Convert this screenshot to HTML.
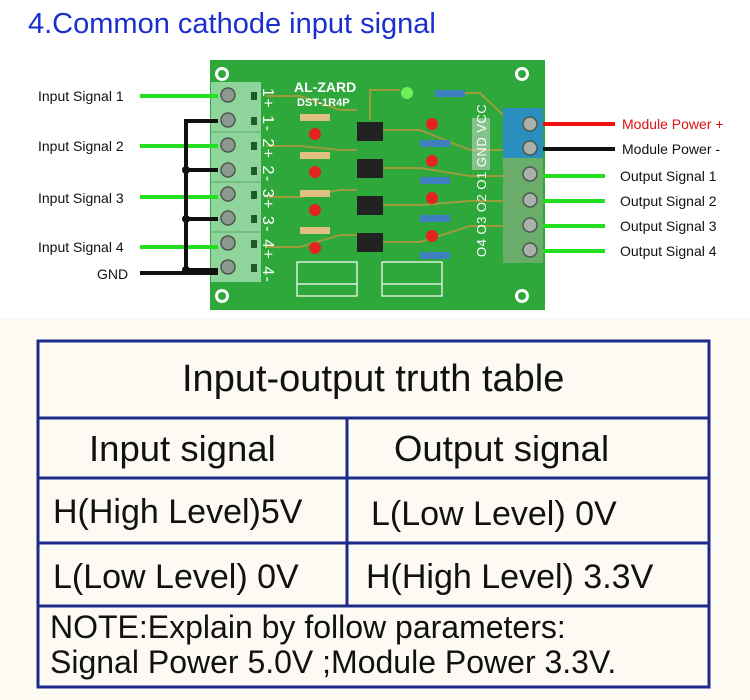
<!DOCTYPE html>
<html><head><meta charset="utf-8"><style>
body{margin:0;width:750px;height:700px;background:#fff;overflow:hidden;font-family:"Liberation Sans",sans-serif;position:relative}
.t{position:absolute;white-space:nowrap}
.lbl{position:absolute;font-size:14px;color:#111;white-space:nowrap}
.tb{position:absolute;font-family:"Liberation Sans",sans-serif;color:#111;white-space:nowrap;transform-origin:0 0}
</style></head><body>
<div style="position:absolute;left:0;top:318px;width:750px;height:382px;background:#fcfaf3"></div>
<div class="t" style="left:28px;top:8px;font-size:29px;color:#1a2fd0">4.Common cathode input signal</div>

<svg width="750" height="320" style="position:absolute;left:0;top:0">
 <rect x="210" y="60" width="335" height="250" fill="#2ea83a"/>
 <g stroke="#b89a3a" stroke-width="2" fill="none" opacity="0.8">
  <path d="M266 96 H300 L340 110 H357"/><path d="M266 146 H300 L340 150 H357"/><path d="M266 197 H300 L340 190 H357"/><path d="M266 247 H300 L340 235 H357"/>
  <path d="M381 130 H420 L470 150 H503"/><path d="M381 168 H420 L470 176 H503"/><path d="M381 205 H420 L470 201 H503"/><path d="M381 242 H420 L470 226 H503"/>
  <path d="M370 120 V90 H400"/><path d="M465 93 H480 L503 115"/>
 </g>
 <g fill="#fff"><circle cx="222" cy="74" r="7"/><circle cx="522" cy="74" r="7"/><circle cx="222" cy="296" r="7"/><circle cx="522" cy="296" r="7"/></g>
 <g fill="#2ea83a"><circle cx="222" cy="74" r="4"/><circle cx="522" cy="74" r="4"/><circle cx="222" cy="296" r="4"/><circle cx="522" cy="296" r="4"/></g>
 <rect x="211" y="82" width="50" height="200" fill="#8fd49a"/>
 <g stroke="#5fa870" stroke-width="1"><line x1="211" y1="132" x2="261" y2="132"/><line x1="211" y1="182" x2="261" y2="182"/><line x1="211" y1="232" x2="261" y2="232"/></g>
 <g fill="#8e9890" stroke="#4a5a4e" stroke-width="1.5">
  <circle cx="228" cy="95" r="7"/><circle cx="228" cy="120" r="7"/><circle cx="228" cy="145" r="7"/><circle cx="228" cy="170" r="7"/>
  <circle cx="228" cy="194" r="7"/><circle cx="228" cy="218" r="7"/><circle cx="228" cy="243" r="7"/><circle cx="228" cy="267" r="7"/></g>
 <g fill="#1e5a2a"><rect x="251" y="92" width="6" height="8"/><rect x="251" y="117" width="6" height="8"/><rect x="251" y="142" width="6" height="8"/><rect x="251" y="167" width="6" height="8"/><rect x="251" y="191" width="6" height="8"/><rect x="251" y="215" width="6" height="8"/><rect x="251" y="240" width="6" height="8"/><rect x="251" y="264" width="6" height="8"/></g>
 <g fill="#fff" font-size="16" font-family="Liberation Sans" transform="rotate(90)">
  <text x="88" y="-263" letter-spacing="1.5">1+ 1- 2+ 2- 3+ 3- 4+ 4-</text></g>
 <rect x="503" y="108" width="40" height="52" fill="#2a8fbf"/>
 <rect x="503" y="158" width="40" height="105" fill="#6aac6a"/>
 <g fill="#aab0aa" stroke="#4a5a4e" stroke-width="1.5"><circle cx="530" cy="124" r="7"/><circle cx="530" cy="148" r="7"/><circle cx="530" cy="174" r="7"/><circle cx="530" cy="200" r="7"/><circle cx="530" cy="225" r="7"/><circle cx="530" cy="250" r="7"/></g>
 <rect x="472" y="118" width="18" height="52" fill="#ddd" opacity="0.5"/>
 <g fill="#fff" font-size="13" font-family="Liberation Sans" transform="rotate(-90)"><text x="-257" y="486" letter-spacing="0.5">O4 O3 O2 O1 GND VCC</text></g>
 <text x="294" y="92" fill="#fff" font-size="14" font-weight="bold" font-family="Liberation Sans">AL-ZARD</text>
 <text x="297" y="106" fill="#fff" font-size="11" font-weight="bold" font-family="Liberation Sans">DST-1R4P</text>
 <circle cx="407" cy="93" r="6" fill="#6cf05a"/>
 <g fill="#222"><rect x="357" y="122" width="26" height="19"/><rect x="357" y="159" width="26" height="19"/><rect x="357" y="196" width="26" height="19"/><rect x="357" y="233" width="26" height="19"/></g>
 <g fill="#e3241e"><circle cx="315" cy="134" r="6"/><circle cx="315" cy="172" r="6"/><circle cx="315" cy="210" r="6"/><circle cx="315" cy="248" r="6"/>
  <circle cx="432" cy="124" r="6"/><circle cx="432" cy="161" r="6"/><circle cx="432" cy="198" r="6"/><circle cx="432" cy="236" r="6"/></g>
 <g fill="#e0c080"><rect x="300" y="114" width="30" height="7"/><rect x="300" y="152" width="30" height="7"/><rect x="300" y="190" width="30" height="7"/><rect x="300" y="227" width="30" height="7"/></g>
 <g fill="#3e7fc0"><rect x="420" y="140" width="30" height="7"/><rect x="420" y="177" width="30" height="7"/><rect x="420" y="215" width="30" height="7"/><rect x="420" y="252" width="30" height="7"/><rect x="435" y="90" width="30" height="7"/></g>
 <g fill="none" stroke="#fff" stroke-width="1.2"><rect x="297" y="262" width="60" height="34"/><rect x="382" y="262" width="60" height="34"/>
  <line x1="297" y1="284" x2="357" y2="284"/><line x1="382" y1="284" x2="442" y2="284"/></g>
 <g stroke="#22e020" stroke-width="4">
  <line x1="140" y1="96" x2="218" y2="96"/><line x1="140" y1="146" x2="218" y2="146"/>
  <line x1="140" y1="197" x2="218" y2="197"/><line x1="140" y1="247" x2="218" y2="247"/>
  <line x1="543" y1="176" x2="605" y2="176"/><line x1="543" y1="201" x2="605" y2="201"/>
  <line x1="543" y1="226" x2="605" y2="226"/><line x1="543" y1="251" x2="605" y2="251"/></g>
 <g stroke="#111" stroke-width="4" fill="none">
  <path d="M218 121 H186 V273"/><line x1="186" y1="170" x2="218" y2="170"/><line x1="186" y1="219" x2="218" y2="219"/><line x1="186" y1="270" x2="218" y2="270"/>
  <line x1="140" y1="273" x2="218" y2="273"/>
  <line x1="543" y1="149" x2="615" y2="149"/></g>
 <g fill="#111"><circle cx="186" cy="170" r="4"/><circle cx="186" cy="219" r="4"/><circle cx="186" cy="270" r="4"/></g>
 <line x1="543" y1="124" x2="615" y2="124" stroke="#f01010" stroke-width="4"/>
</svg>
<div class="lbl" style="left:38px;top:88px">Input Signal 1</div>
<div class="lbl" style="left:38px;top:138px">Input Signal 2</div>
<div class="lbl" style="left:38px;top:190px">Input Signal 3</div>
<div class="lbl" style="left:38px;top:239px">Input Signal 4</div>
<div class="lbl" style="left:97px;top:266px">GND</div>
<div class="lbl" style="left:622px;top:116px;color:#e01010">Module Power +</div>
<div class="lbl" style="left:622px;top:141px">Module Power -</div>
<div class="lbl" style="left:620px;top:168px">Output Signal 1</div>
<div class="lbl" style="left:620px;top:193px">Output Signal 2</div>
<div class="lbl" style="left:620px;top:218px">Output Signal 3</div>
<div class="lbl" style="left:620px;top:243px">Output Signal 4</div>

<svg width="750" height="700" style="position:absolute;left:0;top:0">
 <g stroke="#1c2a8a" stroke-width="3" fill="none">
  <rect x="38" y="341" width="671" height="346"/>
  <line x1="38" y1="418" x2="709" y2="418"/><line x1="38" y1="478" x2="709" y2="478"/>
  <line x1="38" y1="543" x2="709" y2="543"/><line x1="38" y1="606" x2="709" y2="606"/>
  <line x1="347" y1="418" x2="347" y2="606"/></g>
</svg>
<div class="tb" style="left:182px;top:358px;font-size:38px">Input-output truth table</div>
<div class="tb" style="left:89px;top:428px;font-size:36.5px">Input signal</div>
<div class="tb" style="left:394px;top:428px;font-size:36.5px">Output signal</div>
<div class="tb" style="left:53px;top:493px;font-size:34px">H(High Level)5V</div>
<div class="tb" style="left:371px;top:495px;font-size:34px">L(Low Level) 0V</div>
<div class="tb" style="left:53px;top:558px;font-size:34px">L(Low Level) 0V</div>
<div class="tb" style="left:366px;top:558px;font-size:34px">H(High Level) 3.3V</div>
<div class="tb" style="left:50px;top:609px;font-size:32px">NOTE:Explain by follow parameters:</div>
<div class="tb" style="left:50px;top:644px;font-size:32px">Signal Power 5.0V ;Module Power 3.3V.</div>
</body></html>
